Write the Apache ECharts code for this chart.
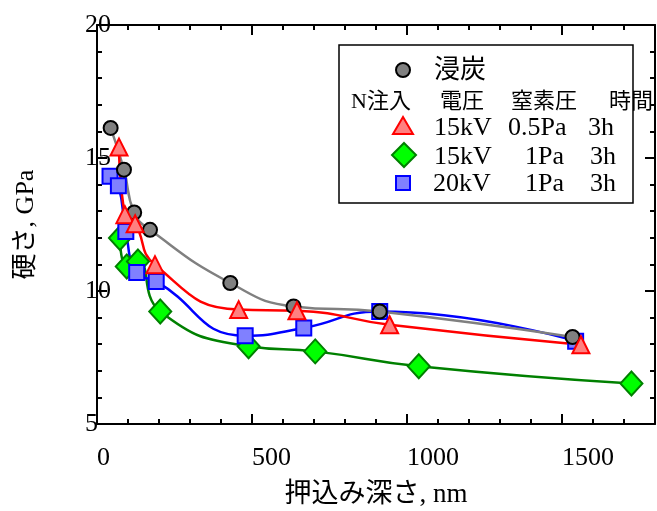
<!DOCTYPE html>
<html><head><meta charset="utf-8">
<script src="https://cdn.jsdelivr.net/npm/echarts@6/dist/echarts.min.js"></script>
<style>html,body{margin:0;padding:0;background:#fff}#c{width:657px;height:511px}</style>
</head><body><div id="c"></div>
<script>
// ---- data ----
const xTickLabels = [0, 500, 1000, 1500];
const yTickLabels = [5, 10, 15, 20];
const carbX = [44, 87, 120, 171, 430, 634, 912, 1534];
const carbY = [16.13, 14.56, 12.95, 12.30, 10.30, 9.42, 9.23, 8.27];
const n05X = [71, 90, 123, 187, 457, 645, 944, 1561];
const n05Y = [15.41, 12.87, 12.53, 10.99, 9.30, 9.26, 8.73, 7.98];
const n15X = [74, 96, 132, 204, 489, 704, 1038, 1724];
const n15Y = [11.99, 10.92, 11.11, 9.23, 7.92, 7.73, 7.17, 6.52];
const n20X = [42, 69, 93, 128, 191, 478, 667, 912, 1544];
const n20Y = [14.31, 13.96, 12.24, 10.70, 10.36, 8.32, 8.61, 9.23, 8.11];

const FONT = "'Liberation Serif', 'Noto Sans CJK JP', serif";
const zip = (xs, ys) => xs.map((x, i) => [x, ys[i]]);

const chart = echarts.init(document.getElementById('c'));

function xAx(pos, interval, len, opts) {
  return Object.assign({
    type: 'value', position: pos, min: 0, max: 1800, interval: interval,
    axisLine: { show: false, onZero: false, lineStyle: { color: '#000', width: 2 } },
    axisTick: { show: true, inside: true, length: len, lineStyle: { color: '#000', width: 2 } },
    axisLabel: { show: false }, splitLine: { show: false }
  }, opts || {});
}

const option = {
  animation: false,
  backgroundColor: '#fff',
  grid: { left: 97, right: 2, top: 25, bottom: 87, containLabel: false, outerBoundsMode: 'none' },
  xAxis: [
    xAx('bottom', 500, 10, {
      axisLine: { show: true, onZero: false, lineStyle: { color: '#000', width: 2 } },
      axisLabel: {
        show: true, align: 'left', margin: 21, color: '#000', fontSize: 26, fontFamily: FONT,
        showMaxLabel: false,
        formatter: v => xTickLabels.includes(v) ? String(v) : ''
      },
      name: '押込み深さ, nm', nameLocation: 'middle', nameGap: 57,
      nameTextStyle: { color: '#000', fontSize: 27, fontFamily: FONT }
    }),
    xAx('bottom', 100, 5),
    xAx('top', 500, 10, { axisLine: { show: true, onZero: false, lineStyle: { color: '#000', width: 2 } } }),
    xAx('top', 100, 5)
  ],
  yAxis: [
    {
      type: 'value', position: 'left', min: 5, max: 20, interval: 5,
      axisLine: { show: true, onZero: false, lineStyle: { color: '#000', width: 2 } },
      axisTick: { show: true, inside: true, length: 10, lineStyle: { color: '#000', width: 2 } },
      minorTick: { show: true, splitNumber: 5, length: 5, lineStyle: { color: '#000', width: 2 } },
      axisLabel: {
        show: true, align: 'left', margin: 12, color: '#000', fontSize: 26, fontFamily: FONT,
        formatter: v => yTickLabels.includes(v) ? String(v) : ''
      },
      splitLine: { show: false },
      name: '硬さ, GPa', nameLocation: 'middle', nameRotate: 90, nameGap: 58,
      nameTextStyle: { color: '#000', fontSize: 26, fontFamily: FONT }
    },
    {
      type: 'value', position: 'right', min: 5, max: 20, interval: 5,
      axisLine: { show: true, onZero: false, lineStyle: { color: '#000', width: 2 } },
      axisTick: { show: true, inside: true, length: 10, lineStyle: { color: '#000', width: 2 } },
      minorTick: { show: true, splitNumber: 5, length: 5, lineStyle: { color: '#000', width: 2 } },
      axisLabel: { show: false }, splitLine: { show: false }
    }
  ],
  series: [
    {
      name: 'N 15kV 1Pa 3h', type: 'line', smooth: true, data: zip(n15X, n15Y),
      symbol: 'diamond', symbolSize: [22, 24],
      lineStyle: { color: '#008000', width: 2.5 },
      itemStyle: { color: '#00ff00', borderColor: '#008000', borderWidth: 2 },
      emphasis: { disabled: true }
    },
    {
      name: 'N 20kV 1Pa 3h', type: 'line', smooth: true, data: zip(n20X, n20Y),
      symbol: 'rect', symbolSize: 15,
      lineStyle: { color: '#0000ff', width: 2.5 },
      itemStyle: { color: '#8080ff', borderColor: '#0000ff', borderWidth: 2 },
      emphasis: { disabled: true }
    },
    {
      name: '浸炭', type: 'line', smooth: true, data: zip(carbX, carbY),
      symbol: 'circle', symbolSize: 14,
      lineStyle: { color: '#808080', width: 2.5 },
      itemStyle: { color: '#808080', borderColor: '#000', borderWidth: 2 },
      emphasis: { disabled: true }
    },
    {
      name: 'N 15kV 0.5Pa 3h', type: 'line', smooth: true, data: zip(n05X, n05Y),
      symbol: 'triangle', symbolSize: 17,
      lineStyle: { color: '#ff0000', width: 2.5 },
      itemStyle: { color: '#ff8080', borderColor: '#ff0000', borderWidth: 2 },
      emphasis: { disabled: true }
    }
  ],
  graphic: [
    { type: 'rect', shape: { x: 339, y: 45, width: 294, height: 158 },
      style: { fill: '#fff', stroke: '#000', lineWidth: 1.5 }, z: 100 },
    { type: 'circle', shape: { cx: 403, cy: 70, r: 7 },
      style: { fill: '#808080', stroke: '#000', lineWidth: 2 }, z: 101 },
    { type: 'text', x: 434, y: 71, style: { text: '浸炭', fontSize: 26, fontFamily: FONT, fill: '#000', verticalAlign: 'middle' }, z: 101 },
    { type: 'text', x: 351, y: 102, style: { text: 'N注入', fontSize: 22, fontFamily: FONT, fill: '#000', verticalAlign: 'middle' }, z: 101 },
    { type: 'text', x: 440, y: 102, style: { text: '電圧', fontSize: 22, fontFamily: FONT, fill: '#000', verticalAlign: 'middle' }, z: 101 },
    { type: 'text', x: 511, y: 102, style: { text: '窒素圧', fontSize: 22, fontFamily: FONT, fill: '#000', verticalAlign: 'middle' }, z: 101 },
    { type: 'text', x: 609, y: 102, style: { text: '時間', fontSize: 22, fontFamily: FONT, fill: '#000', verticalAlign: 'middle' }, z: 101 },
    { type: 'polygon', shape: { points: [[403, 117], [393, 134], [413, 134]] },
      style: { fill: '#ff8080', stroke: '#ff0000', lineWidth: 2 }, z: 101 },
    { type: 'text', x: 434, y: 128, style: { text: '15kV', fontSize: 26, fontFamily: FONT, fill: '#000', verticalAlign: 'middle' }, z: 101 },
    { type: 'text', x: 508, y: 128, style: { text: '0.5Pa', fontSize: 26, fontFamily: FONT, fill: '#000', verticalAlign: 'middle' }, z: 101 },
    { type: 'text', x: 588, y: 128, style: { text: '3h', fontSize: 26, fontFamily: FONT, fill: '#000', verticalAlign: 'middle' }, z: 101 },
    { type: 'polygon', shape: { points: [[404, 143], [416, 155], [404, 167], [392, 155]] },
      style: { fill: '#00ff00', stroke: '#008000', lineWidth: 2 }, z: 101 },
    { type: 'text', x: 434, y: 157, style: { text: '15kV', fontSize: 26, fontFamily: FONT, fill: '#000', verticalAlign: 'middle' }, z: 101 },
    { type: 'text', x: 525, y: 157, style: { text: '1Pa', fontSize: 26, fontFamily: FONT, fill: '#000', verticalAlign: 'middle' }, z: 101 },
    { type: 'text', x: 590, y: 157, style: { text: '3h', fontSize: 26, fontFamily: FONT, fill: '#000', verticalAlign: 'middle' }, z: 101 },
    { type: 'rect', shape: { x: 396, y: 176, width: 14, height: 14 },
      style: { fill: '#8080ff', stroke: '#0000ff', lineWidth: 2 }, z: 101 },
    { type: 'text', x: 433, y: 184, style: { text: '20kV', fontSize: 26, fontFamily: FONT, fill: '#000', verticalAlign: 'middle' }, z: 101 },
    { type: 'text', x: 525, y: 184, style: { text: '1Pa', fontSize: 26, fontFamily: FONT, fill: '#000', verticalAlign: 'middle' }, z: 101 },
    { type: 'text', x: 590, y: 184, style: { text: '3h', fontSize: 26, fontFamily: FONT, fill: '#000', verticalAlign: 'middle' }, z: 101 }
  ]
};
chart.setOption(option);
</script>
</body></html>
